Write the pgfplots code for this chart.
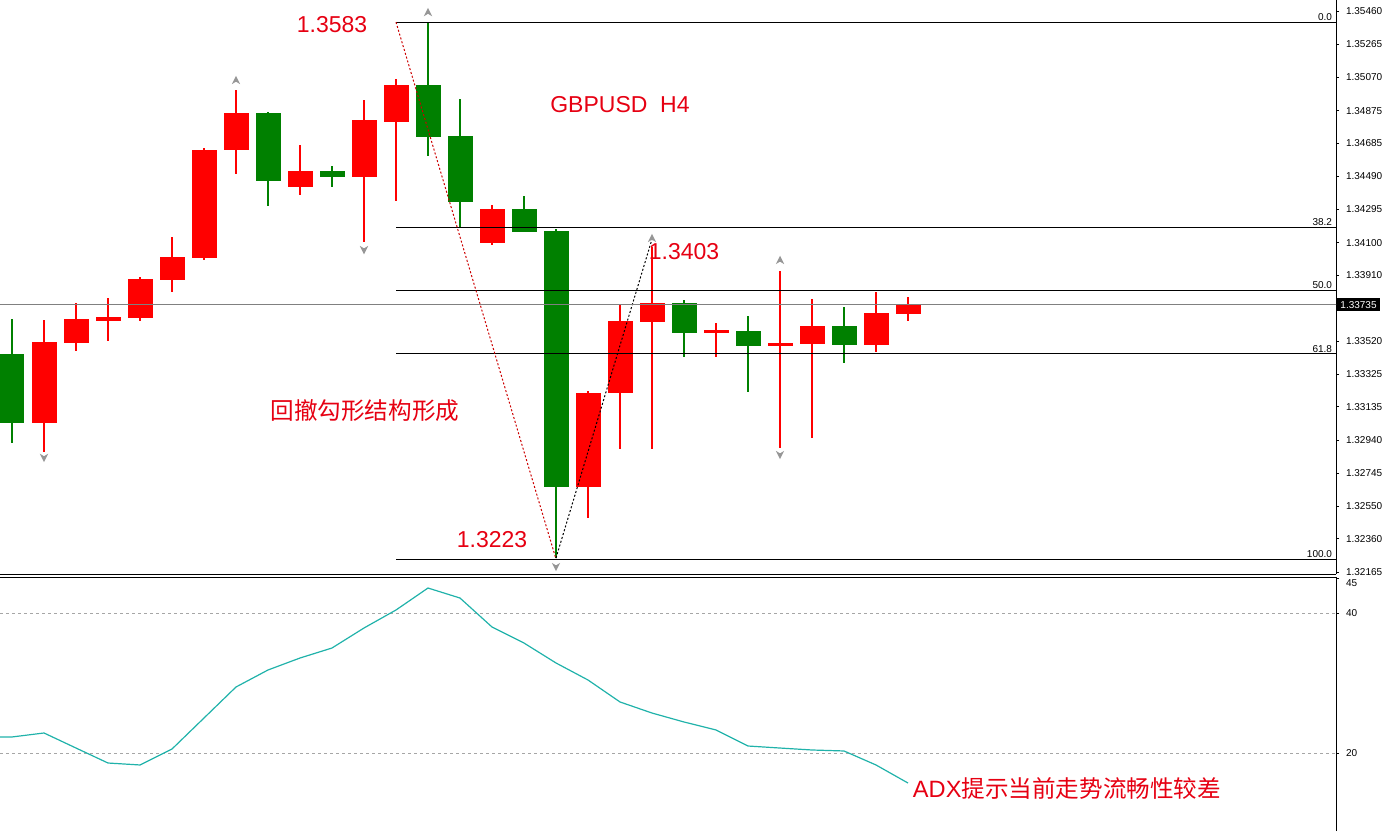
\documentclass[border=0pt]{standalone}
\usepackage{pgfplots}
\pgfplotsset{compat=1.18}
\usepackage{pgfplotstable}
\usepackage{fontspec}
\setmainfont{Liberation Sans}
\newfontfamily\cjk{Noto Sans CJK SC}

\definecolor{mtred}{RGB}{255,0,0}
\definecolor{mtgreen}{RGB}{0,128,0}
\definecolor{adxcol}{RGB}{32,178,170}
\definecolor{note}{RGB}{230,0,18}
\definecolor{fraccol}{RGB}{150,150,150}
\definecolor{bidcol}{RGB}{128,128,128}

% MT4 style fractal arrows
\pgfdeclareplotmark{fracup}{%
  \pgfpathmoveto{\pgfqpoint{0pt}{\pgfplotmarksize}}%
  \pgfpathlineto{\pgfqpoint{-\pgfplotmarksize}{-\pgfplotmarksize}}%
  \pgfpathlineto{\pgfqpoint{0pt}{-0.4\pgfplotmarksize}}%
  \pgfpathlineto{\pgfqpoint{\pgfplotmarksize}{-\pgfplotmarksize}}%
  \pgfpathclose\pgfusepathqfill}
\pgfdeclareplotmark{fracdown}{%
  \pgfpathmoveto{\pgfqpoint{0pt}{-\pgfplotmarksize}}%
  \pgfpathlineto{\pgfqpoint{-\pgfplotmarksize}{\pgfplotmarksize}}%
  \pgfpathlineto{\pgfqpoint{0pt}{0.4\pgfplotmarksize}}%
  \pgfpathlineto{\pgfqpoint{\pgfplotmarksize}{\pgfplotmarksize}}%
  \pgfpathclose\pgfusepathqfill}

% bullish (red) candles: open below close
\pgfplotstableread{
i  o       h       l       c
1  1.33040 1.33645 1.32870 1.33516
2  1.33510 1.33745 1.33463 1.33651
3  1.33639 1.33774 1.33522 1.33663
4  1.33657 1.33898 1.33639 1.33886
5  1.33880 1.34133 1.33810 1.34015
6  1.34009 1.34655 1.33998 1.34644
7  1.34644 1.34996 1.34503 1.34861
9  1.34426 1.34673 1.34379 1.34520
11 1.34485 1.34937 1.34103 1.34820
12 1.34808 1.35061 1.34344 1.35025
15 1.34097 1.34321 1.34086 1.34297
18 1.32664 1.33228 1.32482 1.33217
19 1.33217 1.33733 1.32888 1.33639
20 1.33634 1.34074 1.32888 1.33745
22 1.33569 1.33628 1.33428 1.33587
24 1.33493 1.33933 1.32894 1.33510
25 1.33504 1.33769 1.32952 1.33610
27 1.33498 1.33810 1.33457 1.33686
28 1.33680 1.33780 1.33639 1.33739
}\upbars

% bearish (green) candles
\pgfplotstableread{
i  o       h       l       c
0  1.33446 1.33651 1.32923 1.33040
8  1.34861 1.34867 1.34315 1.34462
10 1.34520 1.34550 1.34426 1.34485
13 1.35025 1.35395 1.34608 1.34720
14 1.34726 1.34943 1.34186 1.34338
16 1.34297 1.34374 1.34162 1.34162
17 1.34168 1.34180 1.32247 1.32664
21 1.33745 1.33763 1.33428 1.33569
23 1.33581 1.33669 1.33222 1.33493
26 1.33610 1.33722 1.33393 1.33498
}\downbars

\pgfplotsset{
  mt/.style={
    scale only axis, width=668pt,
    xmin=-0.375, xmax=41.375, xtick=\empty,
    axis y line*=right,
    axis line style={line width=0.5pt},
    tick align=outside, major tick length=1.5pt,
    tick style={black, line width=0.4pt},
    ticklabel style={font=\fontsize{5}{6}\selectfont},
    yticklabel style={/pgf/number format/assume math mode=true},
    clip mode=individual,
  },
  wick/.style={draw=none, mark=none,
    error bars/.cd, y dir=both, y explicit, error mark=none,
    error bar style={draw=#1, line width=0.6pt}},
  body/.style={draw=none, mark=none,
    error bars/.cd, y dir=both, y explicit, error mark=none,
    error bar style={draw=#1, line width=12.5pt}},
}

\begin{document}
\begin{tikzpicture}
\path[use as bounding box] (0,0) rectangle (691.5pt,-415.5pt);

% price panel
\begin{axis}[mt, at={(0pt,0pt)}, anchor=north west, height=287pt,
  ymin=1.32153, ymax=1.35525, axis x line*=bottom,
  ytick={1.35460,1.35265,1.35070,1.34875,1.34685,1.34490,1.34295,1.34100,1.33910,
         1.33520,1.33325,1.33135,1.32940,1.32745,1.32550,1.32360,1.32165},
  yticklabels={1.35460,1.35265,1.35070,1.34875,1.34685,1.34490,1.34295,1.34100,1.33910,
         1.33520,1.33325,1.33135,1.32940,1.32745,1.32550,1.32360,1.32165},
]
\addplot[wick=mtred] table[x=i, y expr=(\thisrow{h}+\thisrow{l})/2,
  y error expr=(\thisrow{h}-\thisrow{l})/2] {\upbars};
\addplot[wick=mtgreen] table[x=i, y expr=(\thisrow{h}+\thisrow{l})/2,
  y error expr=(\thisrow{h}-\thisrow{l})/2] {\downbars};
\addplot[body=mtred] table[x=i, y expr=(\thisrow{o}+\thisrow{c})/2,
  y error expr=abs(\thisrow{c}-\thisrow{o})/2] {\upbars};
\addplot[body=mtgreen] table[x=i, y expr=(\thisrow{o}+\thisrow{c})/2,
  y error expr=abs(\thisrow{c}-\thisrow{o})/2] {\downbars};

% fibonacci levels
\addplot[black, line width=0.5pt] coordinates {(12,1.35395) (42,1.35395)};
\addplot[black, line width=0.5pt] coordinates {(12,1.34190) (42,1.34190)};
\addplot[black, line width=0.5pt] coordinates {(12,1.33818) (42,1.33818)};
\addplot[black, line width=0.5pt] coordinates {(12,1.33446) (42,1.33446)};
\addplot[black, line width=0.5pt] coordinates {(12,1.32241) (42,1.32241)};
\addplot[mtred!80!black, line width=0.5pt, dash pattern=on 1pt off 1pt]
  coordinates {(12,1.35395) (17,1.32241)};
\addplot[black, line width=0.5pt, dash pattern=on 1pt off 1pt]
  coordinates {(17,1.32247) (20,1.34120)};
% bid line
\addplot[bidcol, line width=0.5pt] coordinates {(-1,1.33735) (42,1.33735)};

% fractals
\addplot[only marks, mark=fracup, mark size=2.1pt, fraccol]
  coordinates {(7,1.35055) (13,1.35454) (20,1.34127) (24,1.33998)};
\addplot[only marks, mark=fracdown, mark size=2.1pt, fraccol]
  coordinates {(1,1.32835) (11,1.34056) (17,1.32194) (24,1.32852)};

\foreach \lv/\tx in {1.35395/0.0, 1.34190/38.2, 1.33818/50.0, 1.33446/61.8, 1.32241/100.0}{
  \edef\temp{\noexpand\node[anchor=south east, inner sep=0.6pt,
    font=\noexpand\fontsize{5}{6}\noexpand\selectfont] at (axis cs:41.3,\lv) {\tx};}
  \temp
}
\node[anchor=west, fill=black, text=white, inner sep=0.8pt, minimum width=21.5pt,
  minimum height=6.5pt, font=\fontsize{5}{6}\selectfont, xshift=0.3pt]
  at (axis cs:41.375,1.33735) {1.33735};

\node[text=note, font=\fontsize{11.5}{13}\selectfont] at (axis cs:10,1.35378) {1.3583};
\node[text=note, font=\fontsize{11.5}{13}\selectfont] at (axis cs:19,1.34908) {GBPUSD\ \ H4};
\node[text=note, font=\fontsize{11.5}{13}\selectfont] at (axis cs:21,1.34050) {1.3403};
\node[text=note, font=\fontsize{11.5}{13}\selectfont] at (axis cs:15,1.32353) {1.3223};
\node[text=note, font=\cjk\fontsize{11.8}{13}\selectfont] at (axis cs:11.03,1.33111) {回撤勾形结构形成};
\end{axis}

% ADX panel
\begin{axis}[mt, at={(0pt,-288.5pt)}, anchor=north west, height=127pt,
  ymin=8.857, ymax=45.143, axis x line*=top,
  ytick={20,40}, extra y ticks={45},
  ymajorgrids, grid style={bidcol!70, line width=0.4pt, dash pattern=on 1.5pt off 1.5pt},
  extra y tick style={grid=none, yticklabel style={yshift=-2.5pt}},
]
\addplot[adxcol, line width=0.6pt] coordinates {
  (-1,22.29) (0,22.29) (1,22.86) (2,20.71) (3,18.57) (4,18.29) (5,20.57) (6,25.0)
  (7,29.43) (8,31.86) (9,33.57) (10,35.0) (11,37.86) (12,40.43) (13,43.57) (14,42.14)
  (15,38.0) (16,35.71) (17,32.86) (18,30.43) (19,27.29) (20,25.71) (21,24.43)
  (22,23.29) (23,21.0) (24,20.71) (25,20.43) (26,20.29) (27,18.29) (28,15.71)};
\node[text=note, font=\fontsize{11.8}{13}\selectfont] at (axis cs:32.97,15.0)
  {ADX{\cjk 提示当前走势流畅性较差}};
\end{axis}
\end{tikzpicture}
\end{document}
